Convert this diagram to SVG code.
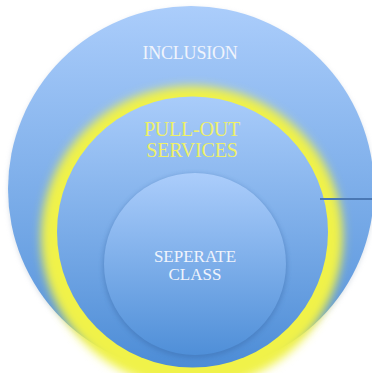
<svg xmlns="http://www.w3.org/2000/svg" width="372" height="373" viewBox="0 0 372 373">
<defs>
<linearGradient id="g" x1="0" y1="0" x2="0" y2="1">
<stop offset="0" stop-color="#abcdfb"/>
<stop offset="1" stop-color="#4f8fd8"/>
</linearGradient>
<linearGradient id="g2" x1="0" y1="0" x2="0" y2="1">
<stop offset="0" stop-color="#a9ccfa"/>
<stop offset="1" stop-color="#4c8cd6"/>
</linearGradient>
<filter id="glow" x="-20%" y="-20%" width="140%" height="140%">
<feGaussianBlur stdDeviation="5"/>
</filter>
<filter id="sh" x="-20%" y="-20%" width="140%" height="140%">
<feGaussianBlur stdDeviation="2.5"/>
</filter>
<style>
.t{font-family:"Liberation Serif","DejaVu Serif",serif;text-anchor:middle}
.w{fill:#f0f4fc}
.y{fill:#eef06a}
</style>
</defs>
<rect width="372" height="373" fill="#ffffff"/>
<g id="inclusion">
<circle cx="191" cy="191" r="183" fill="#b8c4d4" filter="url(#sh)" opacity="0.5"/>
<circle cx="191" cy="189" r="183" fill="url(#g)"/>
<text class="t w" x="190" y="59" font-size="18" letter-spacing="-0.2">INCLUSION</text>
</g>
<g id="pull-out">
<circle cx="192" cy="237" r="151" fill="#f0f24a" filter="url(#glow)"/>
<circle cx="192.5" cy="232" r="135.5" fill="url(#g2)"/>
<text class="t y" x="192" y="136" font-size="20" letter-spacing="-0.2">PULL-OUT</text>
<text class="t y" x="192" y="157" font-size="20" letter-spacing="-0.2">SERVICES</text>
</g>
<g id="seperate">
<circle cx="195" cy="266" r="92" fill="#3a6aa8" opacity="0.45" filter="url(#sh)"/>
<circle cx="195" cy="264" r="91" fill="url(#g)"/>
<text class="t w" x="195" y="262" font-size="17">SEPERATE</text>
<text class="t w" x="195" y="280" font-size="17">CLASS</text>
</g>
<g id="connectors">
<line x1="320" y1="199" x2="372" y2="199" stroke="#4a78b4" stroke-width="2"/>
</g>
</svg>
